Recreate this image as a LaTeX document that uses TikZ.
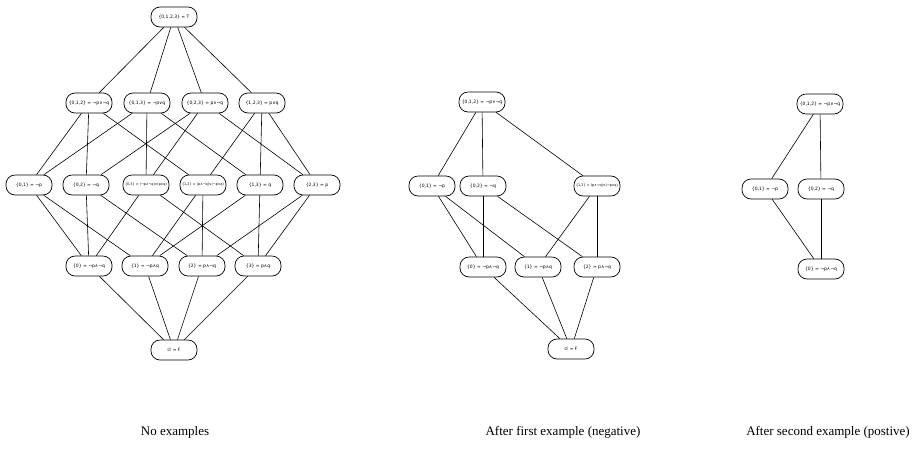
\documentclass[tikz,border=0pt]{standalone}
\usepackage{fontspec}
\setmainfont{Liberation Serif}
\newfontfamily\hypfont{DejaVu Sans}

\tikzset{
  hyp/.style={draw, line width=0.7pt, rounded corners=9pt, minimum width=46pt,
    minimum height=20pt, inner sep=1pt, font=\hypfont\fontsize{4.5}{5}\selectfont},
  longhyp/.style={hyp, font=\hypfont\fontsize{3.4}{4}\selectfont},
  link/.style={line width=0.6pt},
  caption/.style={font=\fontsize{13}{15}\selectfont}
}

\begin{document}
\begin{tikzpicture}[x=1pt, y=-1pt]
    \useasboundingbox (0,0) rectangle (915,456);

    % Full lattice, no examples seen yet
    \node[hyp] (lTop) at (174,17) {\{0,1,2,3\} = T};

    \node[hyp] (l012) at (89,103)  {\{0,1,2\} = ¬p∨¬q};
    \node[hyp] (l013) at (147,103) {\{0,1,3\} = ¬p∨q};
    \node[hyp] (l023) at (205,103) {\{0,2,3\} = p∨¬q};
    \node[hyp] (l123) at (262,103) {\{1,2,3\} = p∨q};

    \node[hyp] (l01) at (29,185)  {\{0,1\} = ¬p};
    \node[hyp] (l02) at (86,185)  {\{0,2\} = ¬q};
    \node[longhyp] (l03) at (146,185) {\{0,3\} = (¬p∧¬q)∨(p∧q)};
    \node[longhyp] (l12) at (203,185) {\{1,2\} = (p∧¬q)∨(¬p∧q)};
    \node[hyp] (l13) at (260,185) {\{1,3\} = q};
    \node[hyp] (l23) at (317,185) {\{2,3\} = p};

    \node[hyp] (l0) at (89,266)  {\{0\} = ¬p∧¬q};
    \node[hyp] (l1) at (145,266) {\{1\} = ¬p∧q};
    \node[hyp] (l2) at (202,266) {\{2\} = p∧¬q};
    \node[hyp] (l3) at (258,266) {\{3\} = p∧q};

    \node[hyp] (lBot) at (174,350) {∅ = F};

    \foreach \a/\b in {lTop/l012, lTop/l013, lTop/l023, lTop/l123,
        l012/l01, l012/l02, l012/l12, l013/l01, l013/l03, l013/l13,
        l023/l02, l023/l03, l023/l23, l123/l12, l123/l13, l123/l23,
        l01/l0, l01/l1, l02/l0, l02/l2, l03/l0, l03/l3,
        l12/l1, l12/l2, l13/l1, l13/l3, l23/l2, l23/l3,
        l0/lBot, l1/lBot, l2/lBot, l3/lBot}
        \draw[link] (\a) -- (\b);

    % After the first (negative) example
    \node[hyp] (m012) at (482,102) {\{0,1,2\} = ¬p∨¬q};

    \node[hyp] (m01) at (432,186) {\{0,1\} = ¬p};
    \node[hyp] (m02) at (483,186) {\{0,2\} = ¬q};
    \node[longhyp] (m12) at (597,186) {\{1,2\} = (p∧¬q)∨(¬p∧q)};

    \node[hyp] (m0) at (483,267) {\{0\} = ¬p∧¬q};
    \node[hyp] (m1) at (538,267) {\{1\} = ¬p∧q};
    \node[hyp] (m2) at (597,267) {\{2\} = p∧¬q};

    \node[hyp] (mBot) at (571,349) {∅ = F};

    \foreach \a/\b in {m012/m01, m012/m02, m012/m12,
        m01/m0, m01/m1, m02/m0, m02/m2, m12/m1, m12/m2,
        m0/mBot, m1/mBot, m2/mBot}
        \draw[link] (\a) -- (\b);

    % After the second (positive) example
    \node[hyp] (r012) at (820,104) {\{0,1,2\} = ¬p∨¬q};
    \node[hyp] (r01) at (765,189) {\{0,1\} = ¬p};
    \node[hyp] (r02) at (821,189) {\{0,2\} = ¬q};
    \node[hyp] (r0) at (821,269) {\{0\} = ¬p∧¬q};

    \foreach \a/\b in {r012/r01, r012/r02, r01/r0, r02/r0}
        \draw[link] (\a) -- (\b);

    % Captions
    \node[caption] (capL) at (175,432) {No examples};
    \node[caption] (capM) at (563,432) {After first example (negative)};
    \node[caption] (capR) at (828,432) {After second example (postive)};
\end{tikzpicture}
\end{document}
